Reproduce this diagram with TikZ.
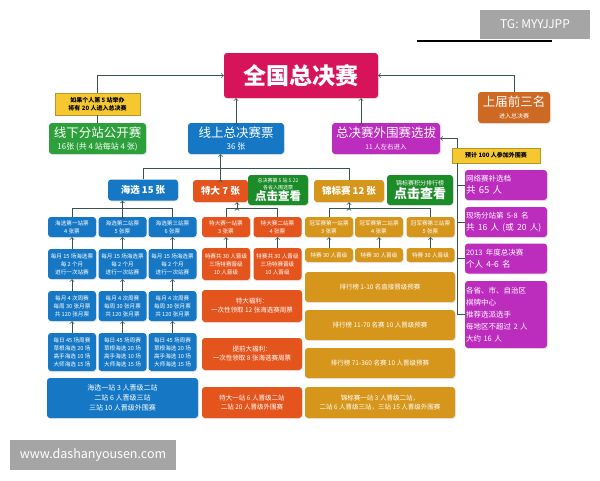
\documentclass[tikz,border=0pt]{standalone}
\usepackage{fontspec}
\setmainfont{Noto Sans CJK SC}
\usetikzlibrary{shadows}
\definecolor{redc}{RGB}{215,20,90}
\definecolor{bluc}{RGB}{22,120,196}
\definecolor{grnc}{RGB}{45,160,60}
\definecolor{ckc}{RGB}{28,140,40}
\definecolor{purc}{RGB}{188,45,190}
\definecolor{brnc}{RGB}{205,105,35}
\definecolor{orgc}{RGB}{228,85,30}
\definecolor{gldc}{RGB}{214,150,28}
\definecolor{yelc}{RGB}{245,200,50}
\definecolor{linec}{RGB}{55,85,80}
\definecolor{grayc}{RGB}{165,165,165}
\tikzset{
    every node/.style={
        text=white
    },
    wire/.style={
        draw=linec,
        thick
    }
}
\tikzstyle{box}=[rounded corners=3pt, align=center, inner sep=1pt, drop shadow={opacity=0.18, shadow xshift=0.8pt, shadow yshift=-1.2pt}]
\tikzstyle{blu}=[box, fill=bluc]
\tikzstyle{org}=[box, fill=orgc]
\tikzstyle{gld}=[box, fill=gldc]
\tikzstyle{pur}=[box, fill=purc, align=left, text width=80pt]
\tikzstyle{note}=[fill=yelc, draw=yelc!75!black, text=black, align=center, inner sep=1pt, font=\fontsize{6}{7.5}\selectfont\bfseries]
\tikzstyle{sm}=[font=\fontsize{5.6}{8}\selectfont]
\newcommand{\mhd}[1]{{\fontsize{12.5}{14}\selectfont #1}}
\newcommand{\msm}[1]{{\fontsize{6.5}{8}\selectfont #1}}

\begin{document}
\begin{tikzpicture}[x=1pt,y=-1pt]
\useasboundingbox (0,0) rectangle (600,480);

\node[fill=grayc, minimum width=110, minimum height=29, font=\fontsize{12}{14}\selectfont] (TG) at (535,24.5) {TG: MYYJJPP};
\draw[black, line width=1.2pt] (417,41) -- (552,41);

\node[box, fill=redc, minimum width=154, minimum height=45, font=\fontsize{23}{26}\selectfont\bfseries] (TOP) at (301,75.5) {全国总决赛};

\node[note, minimum width=85, minimum height=22] (NOTE1) at (97.5,104) {如果个人第 5 站举办\\将有 20 人进入总决赛};
\node[box, fill=grnc, minimum width=97, minimum height=31] (OFF) at (97.5,138.5) {\mhd{线下分站公开赛}\\{\fontsize{8}{9}\selectfont 16张 (共 4 站每站 4 张)}};
\node[blu, minimum width=96, minimum height=31] (ON) at (236,138.5) {\mhd{线上总决赛票}\\{\fontsize{8}{9}\selectfont 36 张}};
\node[box, fill=purc, minimum width=108, minimum height=31] (OUT) at (386,138.5) {\mhd{总决赛外围赛选拔}\\\msm{11 人左右进入}};
\node[box, fill=brnc, minimum width=72, minimum height=31] (PREV) at (514,107.5) {\mhd{上届前三名}\\{\fontsize{6}{7}\selectfont 进入总决赛}};
\node[note, minimum width=88, minimum height=15] (NOTE2) at (496,155.5) {预计 100 人参加外围赛};

\node[pur, minimum height=30] (R1) at (506,185) {{\fontsize{7.5}{10}\selectfont 网络赛补选档}\\{\fontsize{9.5}{11}\selectfont 共 65 人}};
\node[pur, minimum height=30] (R2) at (506,222) {{\fontsize{7.5}{10}\selectfont 现场分站第 5-8 名}\\{\fontsize{8.5}{11}\selectfont 共 16 人 (或 20 人)}};
\node[pur, minimum height=30] (R3) at (506,258.5) {{\fontsize{7.5}{10}\selectfont 2013 年度总决赛}\\{\fontsize{8.5}{11}\selectfont 个人 4-6 名}};
\node[pur, minimum height=67, font=\fontsize{7.5}{12}\selectfont] (R4) at (506,314.5) {各省、市、自治区\\棋牌中心\\推荐选派选手\\每地区不超过 2 人\\大约 16 人};

\node[blu, minimum width=70, minimum height=21, font=\fontsize{9.5}{11}\selectfont\bfseries] (HX) at (143,190) {海选 15 张};
\node[org, minimum width=55, minimum height=22, font=\fontsize{9.5}{11}\selectfont\bfseries] (TD) at (220.5,191) {特大 7 张};
\node[box, fill=ckc, minimum width=60, minimum height=30, font=\fontsize{5}{6.5}\selectfont] (CK1) at (278,190) {总决赛第 5 站 5.22\\各省入围选票\\{\fontsize{11.5}{12}\selectfont\bfseries 点击查看}};
\node[gld, minimum width=70, minimum height=22, font=\fontsize{9.5}{11}\selectfont\bfseries] (JB) at (349,191) {锦标赛 12 张};
\node[box, fill=ckc, minimum width=66, minimum height=30, font=\fontsize{6}{8}\selectfont] (CK2) at (420,190) {锦标赛积分排行榜\\{\fontsize{13}{14}\selectfont\bfseries 点击查看}};

\node[blu, sm, minimum width=48, minimum height=20] (H1) at (72,227) {海选第一站票\\4 张票};
\node[blu, sm, minimum width=48, minimum height=20] (H2) at (122.5,227) {海选第二站票\\5 张票};
\node[blu, sm, minimum width=48, minimum height=20] (H3) at (172.5,227) {海选第三站票\\6 张票};
\node[org, sm, minimum width=48, minimum height=20] (T1) at (226,227) {特大赛一站票\\3 张票};
\node[org, sm, minimum width=48, minimum height=20] (T2) at (277.5,227) {特大赛二站票\\4 张票};
\node[gld, sm, minimum width=48, minimum height=20] (J1) at (329,227) {冠军赛第一站票\\3 张票};
\node[gld, sm, minimum width=48, minimum height=20] (J2) at (379,227) {冠军赛第二站票\\4 张票};
\node[gld, sm, minimum width=48, minimum height=20] (J3) at (430.5,227) {冠军赛第三站票\\5 张票};

\node[blu, sm, minimum width=48, minimum height=30] (H4) at (72,264) {每月 15 场海选票\\每 2 个月\\进行一次站赛};
\node[blu, sm, minimum width=48, minimum height=30] (H5) at (122.5,264) {每月 15 场海选票\\每 2 个月\\进行一次站赛};
\node[blu, sm, minimum width=48, minimum height=30] (H6) at (172.5,264) {每月 15 场海选票\\每 2 个月\\进行一次站赛};
\node[org, sm, minimum width=48, minimum height=32] (T3) at (226,264) {特赛共 30 人晋级\\三场特赛晋级\\10 人晋级};
\node[org, sm, minimum width=48, minimum height=32] (T4) at (277.5,264) {特赛共 30 人晋级\\三场特赛晋级\\10 人晋级};
\node[gld, sm, minimum width=48, minimum height=14] (J4) at (329,255) {特赛 30 人晋级};
\node[gld, sm, minimum width=48, minimum height=14] (J5) at (379,255) {特赛 30 人晋级};
\node[gld, sm, minimum width=48, minimum height=14] (J6) at (430.5,255) {特赛 30 人晋级};

\node[blu, sm, minimum width=48, minimum height=30] (H7) at (72,306) {每月 4 次周赛\\每周 30 张月票\\共 120 张月票};
\node[blu, sm, minimum width=48, minimum height=30] (H8) at (122.5,306) {每月 4 次周赛\\每周 30 张月票\\共 120 张月票};
\node[blu, sm, minimum width=48, minimum height=30] (H9) at (172.5,306) {每月 4 次周赛\\每周 30 张月票\\共 120 张月票};
\node[blu, sm, minimum width=48, minimum height=38] (H10) at (72,352) {每日 45 场周赛\\草根海选 20 场\\高手海选 10 场\\大师海选 15 场};
\node[blu, sm, minimum width=48, minimum height=38] (H11) at (122.5,352) {每日 45 场周赛\\草根海选 20 场\\高手海选 10 场\\大师海选 15 场};
\node[blu, sm, minimum width=48, minimum height=38] (H12) at (172.5,352) {每日 45 场周赛\\草根海选 20 场\\高手海选 10 场\\大师海选 15 场};
\node[blu, minimum width=151, minimum height=40, font=\fontsize{7}{10}\selectfont] (H13) at (122.5,398) {海选一站 3 人晋级二站\\二站 6 人晋级三站\\三站 10 人晋级外围赛};

\node[org, minimum width=100, minimum height=32, font=\fontsize{6.5}{9}\selectfont] (T5) at (252,306) {特大福利：\\一次性领取 12 张海选赛周票};
\node[org, minimum width=100, minimum height=32, font=\fontsize{6.5}{9}\selectfont] (T6) at (252,354) {提前大福利：\\一次性领取 8 张海选赛周票};
\node[org, minimum width=100, minimum height=31, font=\fontsize{6.5}{9}\selectfont] (T7) at (252,402.5) {特大一站 6 人晋级二站\\二站 20 人晋级外围赛};
\node[gld, minimum width=150, minimum height=30, font=\fontsize{6.5}{9}\selectfont] (J7) at (380,287) {排行榜 1-10 名直接晋级预赛};
\node[gld, minimum width=150, minimum height=30, font=\fontsize{6.5}{9}\selectfont] (J8) at (380,325) {排行榜 11-70 名赛 10 人晋级预赛};
\node[gld, minimum width=150, minimum height=30, font=\fontsize{6.5}{9}\selectfont] (J9) at (380,363) {排行榜 71-360 名赛 10 人晋级预赛};
\node[gld, minimum width=150, minimum height=31, font=\fontsize{6.5}{9}\selectfont] (J10) at (380,402.5) {锦标赛一站 3 人晋级二站，\\二站 6 人晋级三站，三站 15 人晋级外围赛};

\node[fill=grayc, minimum width=166, minimum height=30, font=\fontsize{12.5}{14}\selectfont] (WEB) at (93,455) {www.dashanyousen.com};

% upper links
\draw[wire] (OFF.north) -- (NOTE1.south);
\draw[wire,->] (NOTE1.north) |- (TOP.west);
\path[wire,->] (ON.north) edge (ON.north |- TOP.south);
\path[wire,->] ([xshift=-25]OUT.north) edge ([xshift=-25]OUT.north |- TOP.south);
\draw[wire,->] (PREV.north) |- (TOP.east);
\draw[wire,->] ([xshift=6]NOTE2.north west) |- (OUT.east);
\coordinate (SP) at ([xshift=6]NOTE2.south west);
\draw[wire] (SP) |- (R4.west);
\foreach \r in {R1,R2,R3}
    \draw[wire] (SP |- \r.west) -- (\r.west);

% tree
\coordinate (BAR1) at (0,168);
\coordinate (BAR2) at (0,208);
\coordinate (TDM) at (237,208);
\path[wire,->] (TD.north) edge (TD.north |- ON.south);
\draw[wire] (HX.north) |- (JB.north |- BAR1) -- (JB.north);
\draw[wire] (H1.north) |- (H3.north |- BAR2) -- (H3.north);
\path[wire,->] (H2.north) edge (H2.north |- HX.south);
\draw[wire] (T1.north) |- (T2.north |- BAR2) -- (T2.north);
\path[wire,->] (TDM) edge (TDM |- TD.south);
\draw[wire] (J1.north) |- (J3.north |- BAR2) -- (J3.north);
\path[wire,->] (JB.south |- BAR2) edge (JB.south);

\foreach \a/\b in {H4/H1,H5/H2,H6/H3,H7/H4,H8/H5,H9/H6,H10/H7,H11/H8,H12/H9,T3/T1,T4/T2,J4/J1,J5/J2,J6/J3}
    \path[wire,->] (\a) edge (\b);

\end{tikzpicture}
\end{document}
